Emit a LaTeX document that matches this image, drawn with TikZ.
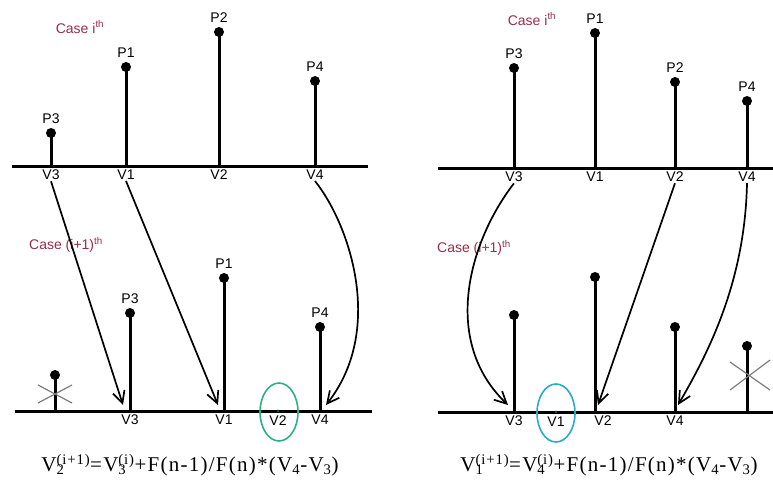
\documentclass[tikz,border=0pt]{standalone}
\usepackage{fontspec}
\setmainfont{Liberation Sans}
\newfontfamily\eqfont[LetterSpace=6]{Liberation Serif}
\usetikzlibrary{arrows.meta,positioning,shapes.geometric}
\definecolor{CaseRed}{RGB}{150,45,75}
\definecolor{RingL}{RGB}{45,175,135}
\definecolor{RingR}{RGB}{40,170,200}
\definecolor{CrossG}{RGB}{125,125,125}
\newcommand\vsup[2]{V\rlap{\textsubscript{#1}}\textsuperscript{#2}}
\tikzset{
  axisline/.style={line width=3pt},
  stemline/.style={line width=3pt},
  tipdot/.style={circle,fill=black,inner sep=0pt,minimum size=10pt},
  plab/.style={font=\fontsize{14}{14}\selectfont,inner sep=1pt},
  vlab/.style={font=\fontsize{14}{14}\selectfont,inner sep=1pt},
  caselab/.style={text=CaseRed,font=\fontsize{14}{14}\selectfont,inner sep=1pt},
  marr/.style={-{Straight Barb[length=12pt,width=12pt]},line width=1.7pt},
  ring/.style={ellipse,draw,line width=1.6pt,minimum width=38pt,minimum height=58pt,inner sep=0pt},
  crossline/.style={draw=CrossG,line width=1.2pt},
  eqlab/.style={font=\eqfont\fontsize{21}{21}\selectfont,inner sep=1pt}
}
\begin{document}
\begin{tikzpicture}[x=1pt,y=-1pt]
\useasboundingbox (0,0) rectangle (773,483);
% left panel, case i
\draw[axisline] (12,166) -- (368,166);
\coordinate (la3) at (51,166);
\coordinate (la1) at (126,166);
\coordinate (la2) at (219,166);
\coordinate (la4) at (315,166);
\node[tipdot] (ld3) at (51,133) {};
\node[tipdot] (ld1) at (126,67) {};
\node[tipdot] (ld2) at (219,32) {};
\node[tipdot] (ld4) at (315,81) {};
\draw[stemline] (la3) -- (ld3.center);
\draw[stemline] (la1) -- (ld1.center);
\draw[stemline] (la2) -- (ld2.center);
\draw[stemline] (la4) -- (ld4.center);
\node[plab, above=3pt of ld3] (lp3) {P3};
\node[plab, above=3pt of ld1] (lp1) {P1};
\node[plab, above=3pt of ld2] (lp2) {P2};
\node[plab, above=3pt of ld4] (lp4) {P4};
\node[vlab, below=3pt of la3] (lv3) {V3};
\node[vlab, below=3pt of la1] (lv1) {V1};
\node[vlab, below=3pt of la2] (lv2) {V2};
\node[vlab, below=3pt of la4] (lv4) {V4};
\node[caselab] (lcase) at (80,27) {Case i\textsuperscript{th}};
% left panel, case i+1
\draw[axisline] (15,411) -- (372,411);
\coordinate (lbx) at (55,411);
\coordinate (lb3) at (130,411);
\coordinate (lb1) at (224,411);
\coordinate (lb2) at (278,411);
\coordinate (lb4) at (320,411);
\node[tipdot] (lex) at (55,375) {};
\node[tipdot] (le3) at (130,313) {};
\node[tipdot] (le1) at (224,278) {};
\node[tipdot] (le4) at (320,327) {};
\draw[stemline] (lbx) -- (lex.center);
\draw[stemline] (lb3) -- (le3.center);
\draw[stemline] (lb1) -- (le1.center);
\draw[stemline] (lb4) -- (le4.center);
\draw[crossline] (38,385) -- (72,403) (38,403) -- (72,385);
\node[plab, above=3pt of le3] (lq3) {P3};
\node[plab, above=3pt of le1] (lq1) {P1};
\node[plab, above=3pt of le4] (lq4) {P4};
\node[vlab, below=3pt of lb3] (lw3) {V3};
\node[vlab, below=3pt of lb1] (lw1) {V1};
\node[vlab, below=4pt of lb2] (lw2) {V2};
\node[vlab, below=3pt of lb4] (lw4) {V4};
\node[ring, draw=RingL] (lring) at (279,412) {};
\node[text=RingL, font=\tiny, inner sep=0pt] (lmark) at (lb2) {x};
\node[caselab] (lcase1) at (66,245) {Case (i+1)\textsuperscript{th}};
\coordinate (lt3) at (123,405);
\coordinate (lt1) at (218,405);
\coordinate (lt4) at (326,405);
\draw[marr] (lv3.south) -- (lt3);
\draw[marr] (lv1.south) -- (lt1);
\draw[marr] (lv4.south) .. controls (350,225) and (385,330) .. (lt4);
\node[eqlab] (leq) at (190,465) {\vsup{2}{(i+1)}=\vsup{3}{(i)}+F(n-1)/F(n)*(V\textsubscript{4}-V\textsubscript{3})};
% right panel, case i
\draw[axisline] (438,168) -- (773,168);
\coordinate (ra3) at (514,168);
\coordinate (ra1) at (595,168);
\coordinate (ra2) at (675,168);
\coordinate (ra4) at (747,168);
\node[tipdot] (rd3) at (514,68) {};
\node[tipdot] (rd1) at (595,33) {};
\node[tipdot] (rd2) at (675,82) {};
\node[tipdot] (rd4) at (747,101) {};
\draw[stemline] (ra3) -- (rd3.center);
\draw[stemline] (ra1) -- (rd1.center);
\draw[stemline] (ra2) -- (rd2.center);
\draw[stemline] (ra4) -- (rd4.center);
\node[plab, above=3pt of rd3] (rp3) {P3};
\node[plab, above=3pt of rd1] (rp1) {P1};
\node[plab, above=3pt of rd2] (rp2) {P2};
\node[plab, above=3pt of rd4] (rp4) {P4};
\node[vlab, below=3pt of ra3] (rv3) {V3};
\node[vlab, below=3pt of ra1] (rv1) {V1};
\node[vlab, below=3pt of ra2] (rv2) {V2};
\node[vlab, below=3pt of ra4] (rv4) {V4};
\node[caselab] (rcase) at (532,19) {Case i\textsuperscript{th}};
% right panel, case i+1
\draw[axisline] (438,412) -- (773,412);
\coordinate (rb3) at (514,412);
\coordinate (rb1) at (556,412);
\coordinate (rb2) at (595,412);
\coordinate (rb4) at (675,412);
\coordinate (rbx) at (747,412);
\node[tipdot] (re3) at (514,315) {};
\node[tipdot] (re2) at (595,277) {};
\node[tipdot] (re4) at (675,327) {};
\node[tipdot] (rex) at (747,346) {};
\draw[stemline] (rb3) -- (re3.center);
\draw[stemline] (rb2) -- (re2.center);
\draw[stemline] (rb4) -- (re4.center);
\draw[stemline] (rbx) -- (rex.center);
\draw[crossline] (730,362) -- (770,390) (730,390) -- (770,360);
\node[vlab, below=3pt of rb3] (rw3) {V3};
\node[vlab, below=4pt of rb1] (rw1) {V1};
\node[vlab, below=3pt of rb2, xshift=8pt] (rw2) {V2};
\node[vlab, below=3pt of rb4] (rw4) {V4};
\node[ring, draw=RingR] (rring) at (556,413) {};
\node[text=RingL, font=\tiny, inner sep=0pt] (rmark) at (rb1) {x};
\node[caselab] (rcase1) at (474,248) {Case (i+1)\textsuperscript{th}};
\coordinate (rt3) at (508,405);
\coordinate (rt2) at (598,405);
\coordinate (rt4) at (678,405);
\draw[marr] (rv3.south) .. controls (470,240) and (440,340) .. (rt3);
\draw[marr] (rv2.south) -- (rt2);
\draw[marr] (rv4.south) .. controls (745,280) and (710,350) .. (rt4);
\node[eqlab] (req) at (609,465) {\vsup{1}{(i+1)}=\vsup{4}{(i)}+F(n-1)/F(n)*(V\textsubscript{4}-V\textsubscript{3})};
\end{tikzpicture}
\end{document}
